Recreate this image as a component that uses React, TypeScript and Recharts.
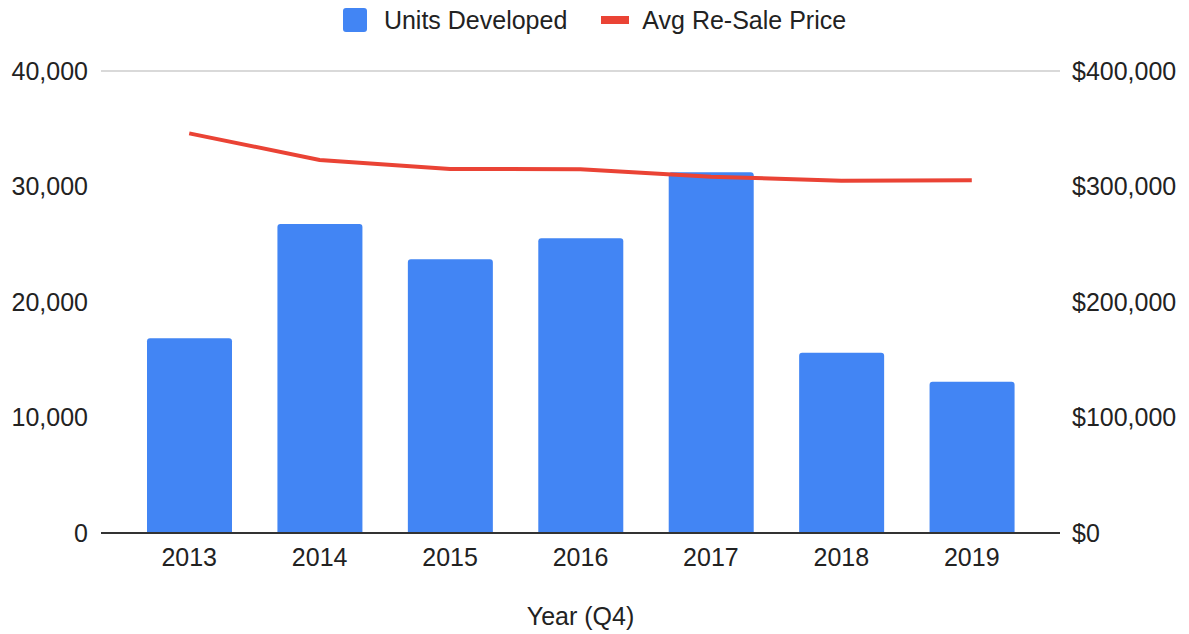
import { Bar, CartesianGrid, ComposedChart, Label, Legend, Line, XAxis, YAxis } from 'recharts'

const years = ['2013', '2014', '2015', '2016', '2017', '2018', '2019']
const unitsDeveloped = [16860, 26750, 23700, 25510, 31230, 15610, 13100]
const avgResalePrice = [346000, 323000, 315200, 314900, 308500, 305000, 305400]
const unitTicks = [0, 10000, 20000, 30000, 40000]
const priceTicks = [0, 100000, 200000, 300000, 400000]

const data = years.map((year, i) => ({
  year,
  units: unitsDeveloped[i],
  price: avgResalePrice[i],
}))

const fmt = new Intl.NumberFormat('en-US')
const font = '"Liberation Sans", Arial, sans-serif'
const textColor = '#222'
const tickStyle = { fill: textColor, fontSize: 25, fontFamily: font }

function ChartLegend() {
  return (
    <div
      style={{
        display: 'flex',
        justifyContent: 'center',
        alignItems: 'center',
        height: 40,
        fontFamily: font,
        fontSize: 25,
        color: textColor,
      }}
    >
      <span style={{ width: 24, height: 24, borderRadius: 3, background: '#4285F4', marginRight: 17 }} />
      <span>Units Developed</span>
      <span style={{ width: 28, height: 8, background: '#EA4335', marginLeft: 34, marginRight: 13 }} />
      <span>Avg Re-Sale Price</span>
    </div>
  )
}

export default function App() {
  return (
    <div style={{ position: 'absolute', left: 0, top: 0 }}>
      <ComposedChart width={1189} height={634} data={data} margin={{ top: 31, right: 0, bottom: 0, left: 0 }}>
        <CartesianGrid vertical={false} stroke="#ccc" strokeWidth={1.5} />
        <Legend
          verticalAlign="top"
          height={40}
          content={<ChartLegend />}
          wrapperStyle={{ left: 0, top: 0, width: 1189 }}
        />
        <XAxis
          dataKey="year"
          height={101}
          padding={{ left: 23, right: 23 }}
          tickLine={false}
          tickSize={0}
          tickMargin={15}
          axisLine={{ stroke: '#333', strokeWidth: 2 }}
          tick={tickStyle}
        >
          <Label
            value="Year (Q4)"
            position="insideBottom"
            offset={9}
            style={{ fill: textColor, fontSize: 25, fontFamily: font }}
          />
        </XAxis>
        <YAxis
          yAxisId="left"
          width={101}
          domain={[0, 40000]}
          ticks={unitTicks}
          tickFormatter={(v: number) => fmt.format(v)}
          axisLine={false}
          tickLine={false}
          tickSize={0}
          tickMargin={13}
          tick={tickStyle}
        />
        <YAxis
          yAxisId="right"
          orientation="right"
          width={129}
          domain={[0, 400000]}
          ticks={priceTicks}
          tickFormatter={(v: number) => '$' + fmt.format(v)}
          axisLine={false}
          tickLine={false}
          tickSize={0}
          tickMargin={12}
          tick={tickStyle}
        />
        <Bar
          yAxisId="left"
          dataKey="units"
          name="Units Developed"
          fill="#4285F4"
          barSize={85}
          radius={[3, 3, 0, 0]}
          isAnimationActive={false}
        />
        <Line
          yAxisId="right"
          dataKey="price"
          name="Avg Re-Sale Price"
          type="linear"
          stroke="#EA4335"
          strokeWidth={4}
          dot={false}
          activeDot={false}
          isAnimationActive={false}
        />
      </ComposedChart>
    </div>
  )
}
